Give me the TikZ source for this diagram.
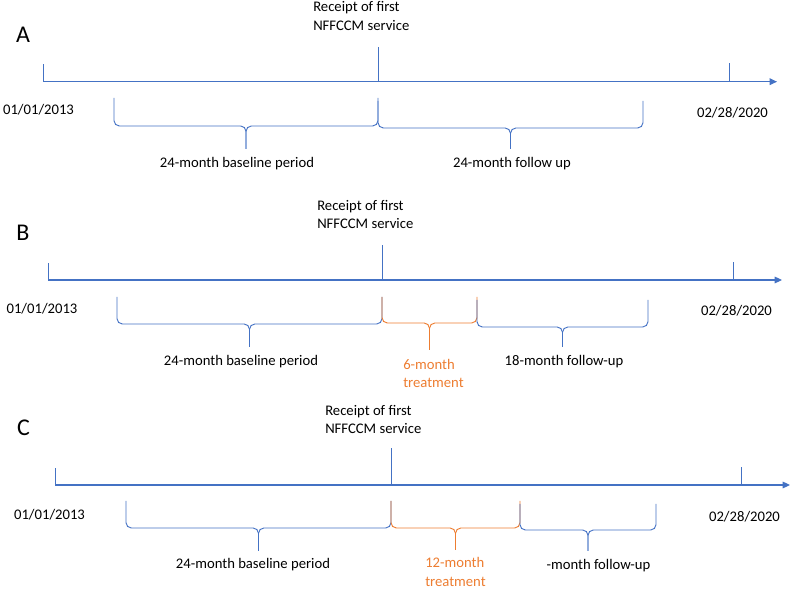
\documentclass[tikz,border=0pt]{standalone}
\usepackage{fontspec}
\setmainfont{Carlito}
\usetikzlibrary{arrows.meta}

\definecolor{axisblue}{HTML}{4472C4}
\definecolor{treatorange}{HTML}{ED7D31}

% Curly bracket under the time line: colour, left x, right x, top y, line y, tip y
\newcommand{\periodbrace}[6]{%
  \draw[periodline,#1] (#2,#4) -- (#2,#5) -- ({(#2+#3)/2},#5) -- ({(#2+#3)/2},#6);
  \draw[periodline,#1] (#3,#4) -- (#3,#5) -- ({(#2+#3)/2},#5) -- ({(#2+#3)/2},#6);
}

\begin{document}
\begin{tikzpicture}[x=0.75pt,y=-0.75pt,
                    every node/.style={inner sep=0pt,font=\fontsize{11}{13.8}\selectfont},
                    timeline/.style={axisblue,line width=0.8pt,-{Triangle[length=5.5pt,width=5pt]}},
                    tick/.style={axisblue,line width=0.6pt},
                    periodline/.style={line width=0.7pt,rounded corners=4pt},
                    panel/.style={font=\fontsize{18}{20}\selectfont},
                    event/.style={align=left,anchor=west},
                    treat/.style={align=left,anchor=west,text=treatorange}
]
\useasboundingbox (0,0) rectangle (794,591);

% Panel A
\node[panel] (labA) at (23,35) {A};
\coordinate (startA) at (43,81.7);
\coordinate (serviceA) at (378,81.7);
\coordinate (endA) at (729,81.7);
\coordinate (tipA) at (777,81.7);
\draw[timeline] (startA) -- (tipA);
\draw[tick] (startA) -- ++(0,-17.7);
\draw[tick] (serviceA) -- ++(0,-35);
\draw[tick] (endA) -- ++(0,-18.7);
\node[event] (recA) at (313,16) {Receipt of first\\NFFCCM service};
\node (fromA) at (38.5,110) {01/01/2013};
\node (toA) at (732.5,113) {02/28/2020};

% Brackets of panel A
\periodbrace{axisblue}{114}{378}{98}{126}{149}
\periodbrace{axisblue}{378}{643}{101}{128}{149}
\node (baseA) at (237,164) {24-month baseline period};
\node (followA) at (512,164) {24-month follow up};

% Panel B
\node[panel] (labB) at (23,233) {B};
\coordinate (startB) at (48,280);
\coordinate (serviceB) at (382,280);
\coordinate (endB) at (733,280);
\coordinate (tipB) at (782,280);
\draw[timeline] (startB) -- (tipB);
\draw[tick] (startB) -- ++(0,-17);
\draw[tick] (serviceB) -- ++(0,-35);
\draw[tick] (endB) -- ++(0,-18);
\node[event] (recB) at (317,214.5) {Receipt of first\\NFFCCM service};
\node (fromB) at (42,309) {01/01/2013};
\node (toB) at (736.5,311) {02/28/2020};

% Brackets of panel B
\periodbrace{axisblue}{117}{382}{297}{324}{347}
\periodbrace{treatorange}{382}{477}{297}{323}{350}
\periodbrace{axisblue}{477}{648}{300}{327}{347}
\node (baseB) at (241,362) {24-month baseline period};
\node[treat] (treatB) at (403,373.5) {6-month\\treatment};
\node (followB) at (564,362) {18-month follow-up};

% Panel C
\node[panel] (labC) at (23.5,428) {C};
\coordinate (startC) at (55,485);
\coordinate (serviceC) at (391,485);
\coordinate (endC) at (741,485);
\coordinate (tipC) at (790,485);
\draw[timeline] (startC) -- (tipC);
\draw[tick] (startC) -- ++(0,-17);
\draw[tick] (serviceC) -- ++(0,-37);
\draw[tick] (endC) -- ++(0,-18);
\node[event] (recC) at (325,419.5) {Receipt of first\\NFFCCM service};
\node (fromC) at (49.5,515) {01/01/2013};
\node (toC) at (744.5,517) {02/28/2020};

% Brackets of panel C
\periodbrace{axisblue}{126}{391}{501}{528}{551}
\periodbrace{treatorange}{391}{520}{501}{528}{550}
\periodbrace{axisblue}{520}{656}{504}{530}{551}
\node (baseC) at (253,565) {24-month baseline period};
\node[treat] (treatC) at (425,572) {12-month\\treatment};
\node (followC) at (598.5,566) {-month follow-up};

\end{tikzpicture}
\end{document}
